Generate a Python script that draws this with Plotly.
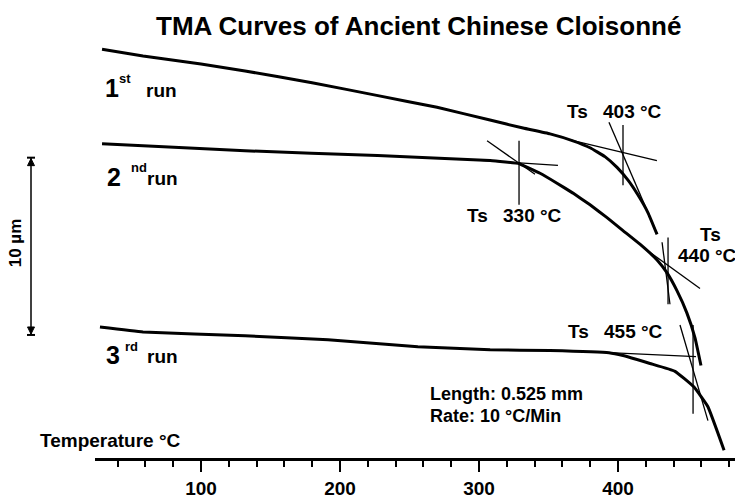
import plotly.graph_objects as go

# ---------------- data (temperature in °C, displacement in µm) ----------------
run1_T = [28.8, 58.3, 100, 131.7, 179.9, 227.3, 269.8, 307.9, 331.7, 351.1, 367.6, 379.9, 390.6, 399.3, 407.2, 414.4, 421.6, 428.1]
run1_L = [23.06, 22.67, 22.22, 21.83, 21.17, 20.44, 19.78, 19.06, 18.61, 18.28, 17.89, 17.5, 17.0, 16.39, 15.67, 14.83, 13.83, 12.61]

run2_T = [28.8, 58.3, 131.7, 227, 308, 328.8, 331.7, 343.9, 356.1, 367.6, 379.9, 392.1, 403.6, 415.8, 428.1, 435.3, 442.4, 449.6, 455.4, 459.7]
run2_L = [17.72, 17.61, 17.33, 17.06, 16.78, 16.61, 16.5, 16.06, 15.5, 14.94, 14.28, 13.56, 12.83, 12.06, 11.17, 10.44, 9.44, 8.17, 6.78, 5.22]

run3_T = [27.3, 58.3, 131.7, 191.4, 256, 308, 351, 393.5, 403.6, 423, 441, 454.7, 464.7, 476.3]
run3_L = [7.39, 7.11, 6.89, 6.67, 6.28, 6.11, 6.06, 5.94, 5.78, 5.33, 4.89, 4.0, 2.89, 0.44]

# tangent construction lines: (T0, L0, T1, L1)
tangents = [
    # Ts 403 °C (1st run)
    (365.5, 17.94, 428.0, 16.78),
    (393.5, 18.94, 428.0, 12.67),
    (403.6, 18.78, 403.6, 15.39),
    # Ts 330 °C (2nd run)
    (305.8, 17.89, 340.3, 16.00),
    (293.5, 16.83, 356.8, 16.50),
    (328.8, 17.89, 328.8, 14.28),
    # Ts 440 °C (2nd run)
    (420.9, 11.72, 459.0, 9.56),
    (431.7, 12.17, 437.4, 8.67),
    (436.0, 12.44, 436.0, 8.67),
    # Ts 455 °C (3rd run)
    (393.5, 5.94, 456.1, 5.72),
    (444.6, 7.50, 464.7, 2.11),
    (454.0, 7.50, 454.0, 2.50),
]

major_ticks = [100, 200, 300, 400]
scale_bar_um = [6.94, 16.94]   # 10 µm scale bar

W, H = 735, 499
PLOT_H = 465
FONT = "Liberation Sans, Arial, Helvetica, sans-serif"


def px(x):
    return x / W


def py(y):
    return (PLOT_H - y) / PLOT_H


fig = go.Figure()

for T, L in [(run1_T, run1_L), (run2_T, run2_L), (run3_T, run3_L)]:
    fig.add_trace(go.Scatter(x=T, y=L, mode="lines",
                             line=dict(color="black", width=3, shape="spline", smoothing=0.3),
                             showlegend=False, hoverinfo="skip"))

for t0, l0, t1, l1 in tangents:
    fig.add_trace(go.Scatter(x=[t0, t1], y=[l0, l1], mode="lines",
                             line=dict(color="black", width=1.3),
                             showlegend=False, hoverinfo="skip"))

annotations = []


def txt(x, y, s, size, anchor="left", angle=0):
    annotations.append(dict(xref="paper", yref="paper", x=px(x), y=py(y), text=s,
                            showarrow=False, xanchor=anchor, yanchor="middle",
                            textangle=angle,
                            font=dict(family=FONT, size=size, color="black", weight="bold")))


txt(418, 26, "TMA Curves of Ancient Chinese Cloisonné", 26, "center")

# run labels
txt(103, 89, "1", 25); txt(117, 80, "st", 13); txt(144, 92, "run", 19)
txt(105, 180, "2", 25); txt(129, 170, "nd", 13); txt(145, 181, "run", 19)
txt(104, 360, "3", 25); txt(123, 352, "rd", 13); txt(145, 362, "run", 19)

# Ts labels
txt(565, 113, "Ts", 19); txt(601, 113, "403 °C", 19)
txt(465, 219, "Ts", 19); txt(501, 219, "330 °C", 19)
txt(698, 238, "Ts", 19); txt(676, 259, "440 °C", 19)
txt(566, 337, "Ts", 19); txt(602, 337, "455 °C", 19)

txt(428, 400, "Length: 0.525 mm", 18)
txt(428, 422, "Rate: 10 °C/Min", 18)
txt(38, 447, "Temperature °C", 19)
txt(15, 246, "10 µm", 17, "center", -90)

shapes = []
bx = px(31)
lo, hi = scale_bar_um
shapes.append(dict(type="line", xref="paper", yref="y", x0=bx, x1=bx, y0=lo, y1=hi,
                   line=dict(color="black", width=1.5)))
for yy in (lo, hi):
    shapes.append(dict(type="line", xref="paper", yref="y", x0=px(27), x1=px(35), y0=yy, y1=yy,
                       line=dict(color="black", width=2)))
# arrow heads
shapes.append(dict(type="path", xref="paper", yref="y",
                   path=f"M {px(27.5)} {hi - 0.45} L {px(34.5)} {hi - 0.45} L {bx} {hi - 0.05} Z",
                   fillcolor="black", line=dict(color="black", width=1)))
shapes.append(dict(type="path", xref="paper", yref="y",
                   path=f"M {px(27.5)} {lo + 0.45} L {px(34.5)} {lo + 0.45} L {bx} {lo + 0.05} Z",
                   fillcolor="black", line=dict(color="black", width=1)))

x_left = (95 - 62) / 1.39
x_right = (735 - 62) / 1.39

fig.update_layout(
    width=W, height=H, autosize=False,
    margin=dict(l=0, r=0, t=0, b=H - PLOT_H, pad=0),
    paper_bgcolor="white", plot_bgcolor="white",
    annotations=annotations, shapes=shapes,
    xaxis=dict(domain=[95 / W, 1], range=[x_left, x_right], showgrid=False, zeroline=False,
               showline=True, linecolor="black", linewidth=3,
               tickmode="array", tickvals=major_ticks,
               ticks="outside", ticklen=11, tickwidth=2, tickcolor="black",
               tickfont=dict(family=FONT, size=19, color="black", weight="bold"),
               minor=dict(dtick=20, tick0=0, ticks="outside", ticklen=6, tickwidth=2,
                          tickcolor="black", showgrid=False)),
    yaxis=dict(range=[0, PLOT_H / 18], visible=False, showgrid=False, zeroline=False),
)

fig.write_html("out.html")
